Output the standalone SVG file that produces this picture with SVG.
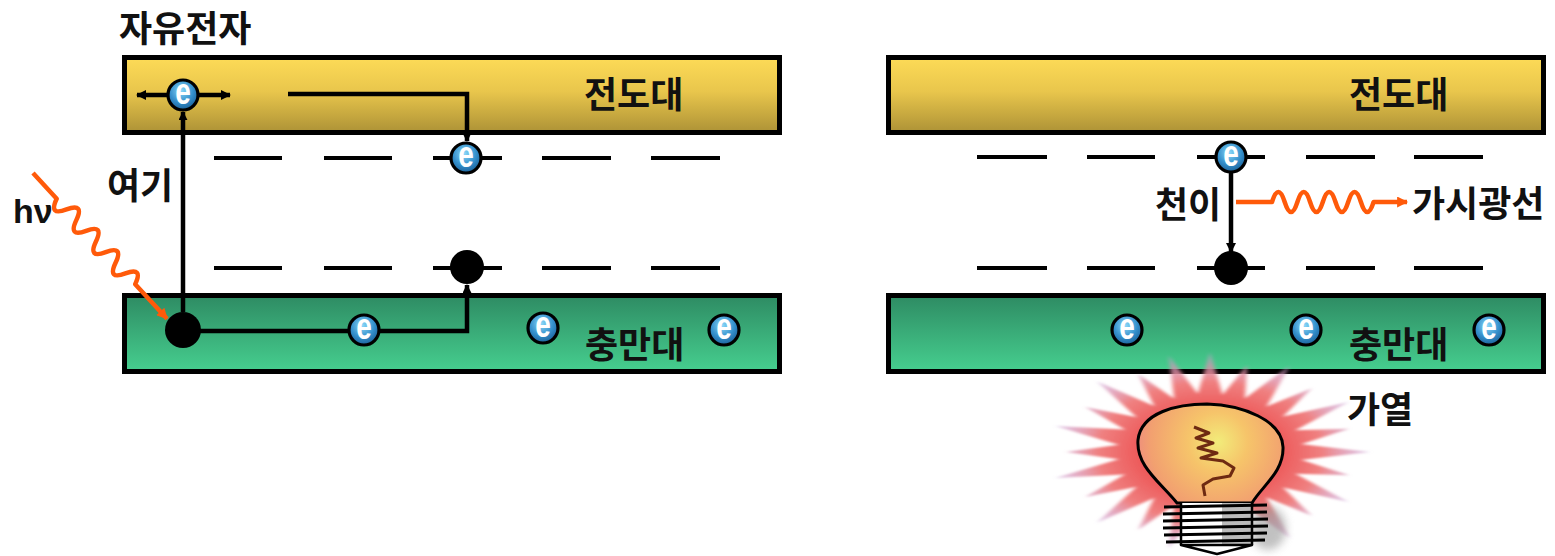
<svg xmlns="http://www.w3.org/2000/svg" xmlns:xlink="http://www.w3.org/1999/xlink" width="1555" height="556" viewBox="0 0 1555 556">
  <style>
    .band { stroke: #000; stroke-width: 5; }
    .cb { fill: url(#gradConduction); }
    .vb { fill: url(#gradValence); }
    .label { font-family: "Noto Sans CJK KR", "Noto Sans", sans-serif; font-weight: 700; font-size: 36px; fill: #111; }
    .level { stroke: #000; stroke-width: 4; fill: none; }
    .wire { stroke: #000; stroke-width: 4.5; fill: none; }
    .photon { stroke: #FF5A0A; stroke-width: 4.5; fill: none; stroke-linejoin: round; }
    .hole { fill: #000; }
    .e-glyph { font-family: "Liberation Sans", Arial, sans-serif; font-weight: 700; font-size: 28px; fill: #fff; }
  </style>
  <defs>
    <linearGradient id="gradConduction" x1="0" y1="0" x2="0" y2="1">
      <stop offset="0" stop-color="#FDDB57"/>
      <stop offset="0.45" stop-color="#E9C64C"/>
      <stop offset="1" stop-color="#AD9236"/>
    </linearGradient>
    <linearGradient id="gradValence" x1="0" y1="0" x2="0" y2="1">
      <stop offset="0" stop-color="#2E8B63"/>
      <stop offset="1" stop-color="#46CF8F"/>
    </linearGradient>
    <radialGradient id="gradElectron" cx="0.45" cy="0.35" r="0.7">
      <stop offset="0" stop-color="#8AD8F8"/>
      <stop offset="0.55" stop-color="#3590CC"/>
      <stop offset="1" stop-color="#175A92"/>
    </radialGradient>
    <radialGradient id="gradRay" gradientUnits="userSpaceOnUse" cx="0" cy="0" r="100">
      <stop offset="0.4" stop-color="#EC5454"/>
      <stop offset="0.7" stop-color="#F08080"/>
      <stop offset="1" stop-color="#C8A0D8" stop-opacity="0.55"/>
    </radialGradient>
    <radialGradient id="gradBulb" gradientUnits="userSpaceOnUse" cx="1218" cy="442" r="85">
      <stop offset="0" stop-color="#F2EC7A"/>
      <stop offset="0.35" stop-color="#F6C46A"/>
      <stop offset="0.8" stop-color="#F2A070"/>
      <stop offset="1" stop-color="#EE8A80"/>
    </radialGradient>
    <filter id="soft" x="-20%" y="-20%" width="140%" height="140%">
      <feGaussianBlur stdDeviation="1.2"/>
    </filter>
    <filter id="shade" x="-50%" y="-50%" width="200%" height="200%">
      <feGaussianBlur stdDeviation="4"/>
    </filter>
    <marker id="arrow" viewBox="0 0 10 10" refX="9" refY="5" markerWidth="11" markerHeight="10" markerUnits="userSpaceOnUse" orient="auto">
      <path d="M0,0 L10,5 L0,10 z" fill="#000"/>
    </marker>
    <marker id="arrowSm" viewBox="0 0 10 10" refX="9" refY="5" markerWidth="9" markerHeight="9" markerUnits="userSpaceOnUse" orient="auto">
      <path d="M0,0 L10,5 L0,10 z" fill="#000"/>
    </marker>
    <marker id="arrowOrange" viewBox="0 0 10 10" refX="9" refY="5" markerWidth="14" markerHeight="11" markerUnits="userSpaceOnUse" orient="auto">
      <path d="M0,0 L10,5 L0,10 z" fill="#FF5A0A"/>
    </marker>
    <!-- electron symbol: shaded sphere with a white "e" -->
    <g id="electron">
      <circle r="15" fill="url(#gradElectron)" stroke="#000" stroke-width="3.2"/>
      <text class="e-glyph" x="0" y="6.7" text-anchor="middle" transform="scale(1,1.32)">e</text>
    </g>
    <polygon id="ray" points="-11,-40 0,-100 11,-40"/>
    <polygon id="rayShort" points="-11,-40 0,-90 11,-40"/>
  </defs>

  <!-- left panel: energy bands -->
  <g id="cb-left">
    <rect class="band cb" x="124.5" y="57.5" width="655" height="75"/>
    <text class="label" x="584" y="108">전도대</text>
  </g>
  <g id="vb-left">
    <rect class="band vb" x="124.5" y="295.5" width="655" height="76"/>
    <text class="label" x="585" y="358">충만대</text>
  </g>

  <!-- right panel: energy bands -->
  <g id="cb-right">
    <rect class="band cb" x="888.5" y="57.5" width="655" height="75"/>
    <text class="label" x="1349" y="108">전도대</text>
  </g>
  <g id="vb-right">
    <rect class="band vb" x="888.5" y="295.5" width="655" height="76"/>
    <text class="label" x="1349" y="358">충만대</text>
  </g>

  <!-- impurity levels -->
  <g id="levels">
    <path class="level" d="M214,158h68 M324,158h68 M433,158h69 M542,158h69 M651,158h69"/>
    <path class="level" d="M214,268h68 M324,268h68 M433,268h69 M542,268h69 M651,268h69"/>
    <path class="level" d="M977,157h70 M1087,157h68 M1197,157h68 M1306,157h69 M1414,157h69"/>
    <path class="level" d="M977,268h70 M1087,268h68 M1197,268h68 M1306,268h69 M1414,268h69"/>
  </g>

  <!-- transitions and photons -->
  <g id="connectors">
    <path class="wire" d="M183,312 V112" marker-end="url(#arrowSm)"/>
    <path class="wire" d="M167,95 H137" marker-end="url(#arrow)"/>
    <path class="wire" d="M199,95 H230" marker-end="url(#arrow)"/>
    <path class="wire" d="M288,94 H467 V141" marker-end="url(#arrowSm)"/>
    <path class="wire" d="M183,331 H348"/>
    <path class="wire" d="M380,331 H467 V285" marker-end="url(#arrowSm)"/>
    <path class="wire" d="M1231,173 V252" marker-end="url(#arrow)"/>
    <g transform="translate(33,173) rotate(47.4)">
      <path class="photon" d="M0,0 H35 q7.25,18 14.5,0 t14.5,0 t14.5,0 t14.5,0 t14.5,0 t14.5,0 t14.5,0 t14.5,0 H198" marker-end="url(#arrowOrange)"/>
    </g>
    <path class="photon" d="M1236,202 H1272 q6.35,-20 12.7,0 t12.7,0 t12.7,0 t12.7,0 t12.7,0 t12.7,0 t12.7,0 t12.7,0 H1407" marker-end="url(#arrowOrange)"/>
  </g>

  <!-- holes -->
  <g id="holes">
    <circle class="hole" cx="183" cy="330" r="18"/>
    <circle class="hole" cx="467" cy="267" r="17"/>
    <circle class="hole" cx="1231" cy="268" r="17"/>
  </g>

  <!-- electrons -->
  <g id="electrons">
    <use xlink:href="#electron" x="183" y="95"/>
    <use xlink:href="#electron" x="466" y="158"/>
    <use xlink:href="#electron" x="364" y="330"/>
    <use xlink:href="#electron" x="543" y="328"/>
    <use xlink:href="#electron" x="724" y="330"/>
    <use xlink:href="#electron" x="1231" y="157"/>
    <use xlink:href="#electron" x="1127" y="330"/>
    <use xlink:href="#electron" x="1306" y="330"/>
    <use xlink:href="#electron" x="1489" y="330"/>
  </g>

  <!-- text labels -->
  <g id="labels">
    <text class="label" x="119" y="42">자유전자</text>
    <text class="label" x="107" y="199">여기</text>
    <text x="13" y="223" font-family="Liberation Sans, Arial, sans-serif" font-weight="700" font-size="34" fill="#111">hν</text>
    <text class="label" x="1155" y="218">천이</text>
    <text class="label" x="1412" y="217">가시광선</text>
    <text class="label" x="1347" y="423">가열</text>
  </g>

  <!-- heating: glowing light bulb -->
  <g id="bulb">
    <g transform="translate(1210,452) scale(1.6,1)" fill="url(#gradRay)" filter="url(#soft)">
      <circle r="45"/>
      <use xlink:href="#ray" transform="rotate(0)"/>
      <use xlink:href="#rayShort" transform="rotate(15)"/>
      <use xlink:href="#ray" transform="rotate(30)"/>
      <use xlink:href="#rayShort" transform="rotate(45)"/>
      <use xlink:href="#ray" transform="rotate(60)"/>
      <use xlink:href="#rayShort" transform="rotate(75)"/>
      <use xlink:href="#ray" transform="rotate(90)"/>
      <use xlink:href="#rayShort" transform="rotate(105)"/>
      <use xlink:href="#ray" transform="rotate(120)"/>
      <use xlink:href="#rayShort" transform="rotate(135)"/>
      <use xlink:href="#ray" transform="rotate(150)"/>
      <use xlink:href="#rayShort" transform="rotate(165)"/>
      <use xlink:href="#ray" transform="rotate(195)"/>
      <use xlink:href="#rayShort" transform="rotate(210)"/>
      <use xlink:href="#ray" transform="rotate(225)"/>
      <use xlink:href="#rayShort" transform="rotate(240)"/>
      <use xlink:href="#ray" transform="rotate(255)"/>
      <use xlink:href="#rayShort" transform="rotate(270)"/>
      <use xlink:href="#ray" transform="rotate(285)"/>
      <use xlink:href="#rayShort" transform="rotate(300)"/>
      <use xlink:href="#ray" transform="rotate(315)"/>
      <use xlink:href="#rayShort" transform="rotate(330)"/>
      <use xlink:href="#ray" transform="rotate(345)"/>
    </g>
    <!-- soft shadow beside the screw base -->
    <ellipse cx="1268" cy="528" rx="18" ry="22" fill="#999" opacity="0.6" filter="url(#shade)"/>
    <!-- glass -->
    <path d="M1177,503 C1160,482 1136,466 1138,440 C1141,412 1178,404 1207,404 C1242,405 1282,420 1283,447 C1284,472 1262,486 1252,503 Z" fill="url(#gradBulb)" stroke="#000" stroke-width="3"/>
    <!-- filament -->
    <path d="M1194,427 L1209,433 L1196,438 L1213,443 L1198,448 L1217,453 L1201,458 L1223,461 L1234,468 L1230,476 L1213,479 L1203,485 L1205,496" fill="none" stroke="#6E2A12" stroke-width="3" stroke-linejoin="round"/>
    <!-- screw base -->
    <rect x="1181" y="503" width="71" height="42" fill="#fff"/>
    <rect x="1222" y="503" width="30" height="42" fill="#bbb"/>
    <path d="M1164,507 L1267,505 M1163,514 L1267,512 M1163,521 L1268,519 M1163,528 L1268,526 M1164,535 L1267,533 M1166,542 L1265,540" stroke="#000" stroke-width="3.2" fill="none"/>
    <path d="M1181,503 V545 M1252,503 V545" stroke="#000" stroke-width="2.5"/>
    <path d="M1181,545 L1252,545 L1217,554 Z" fill="#fff" stroke="#000" stroke-width="2.5" stroke-linejoin="round"/>
  </g>
</svg>
